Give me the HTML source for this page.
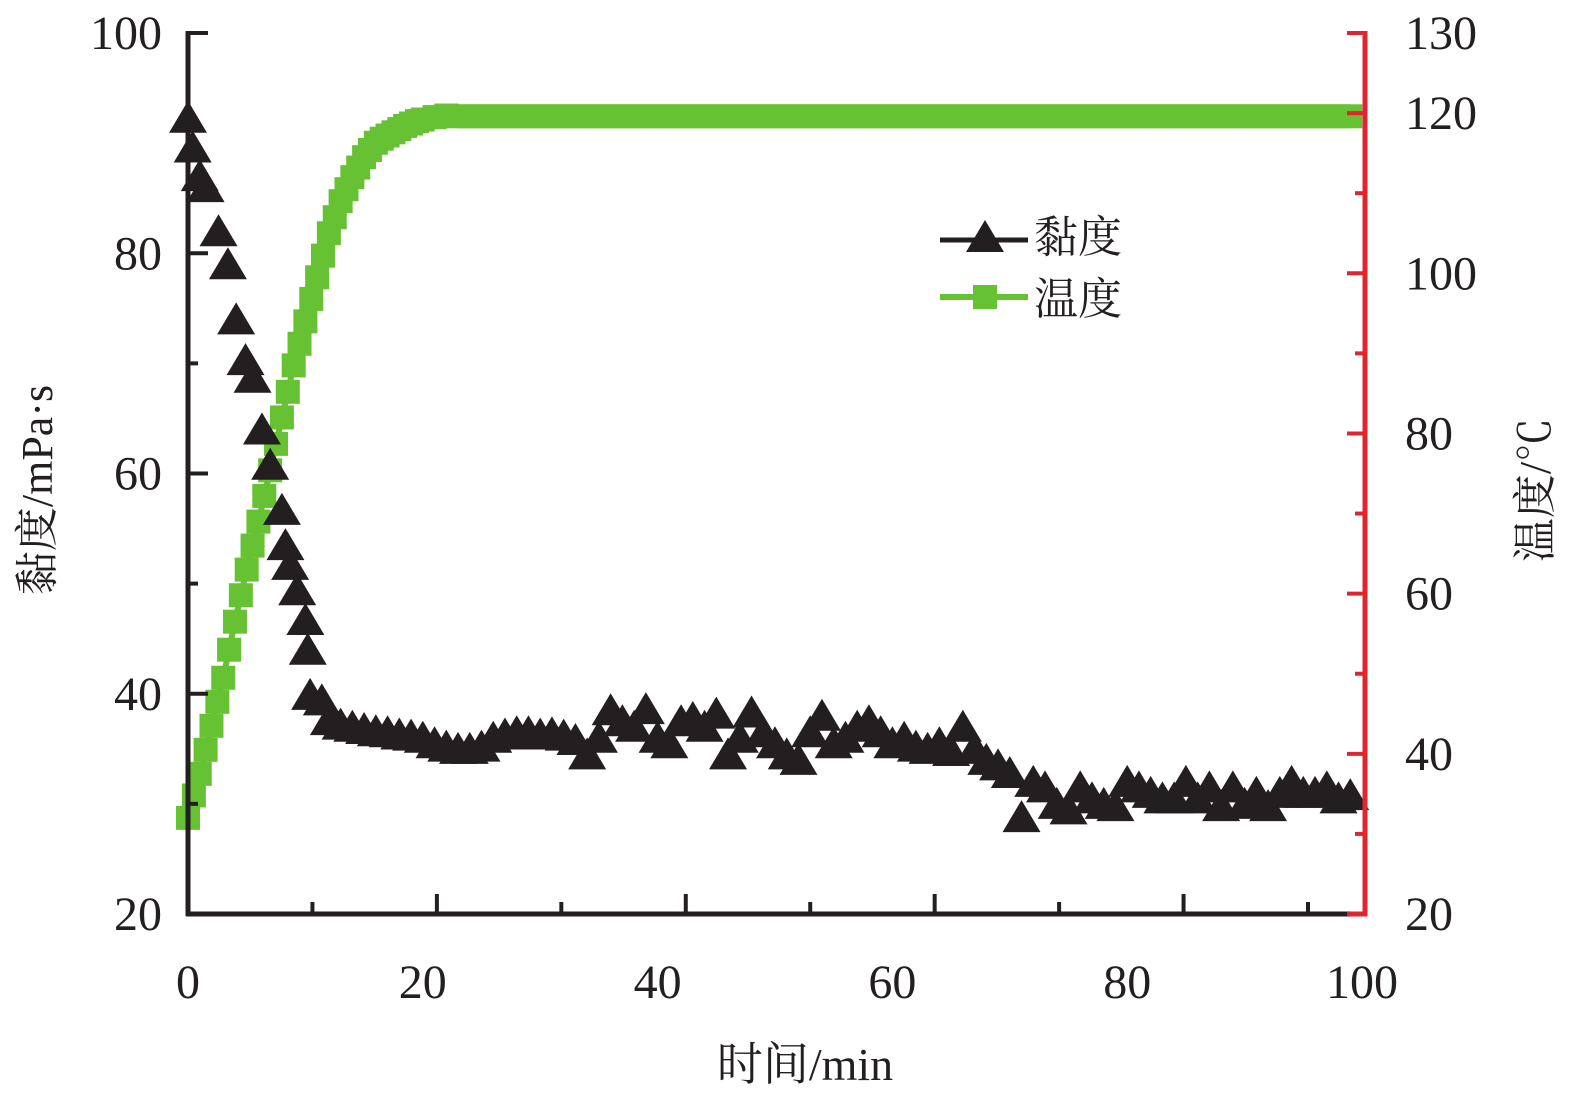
<!DOCTYPE html>
<html><head><meta charset="utf-8"><style>
body{margin:0;background:#fff}
svg{display:block}
text{font-family:"Liberation Serif","Noto Serif CJK SC",serif;fill:#231f20}
</style></head><body>
<svg id="chart" width="1575" height="1106" viewBox="0 0 1575 1106">
<g id="temp"></g>
<g id="visc"></g>
<g id="axes"></g>
<text transform="translate(52,490) rotate(-90)" text-anchor="middle" font-size="44">黏度/mPa·s</text>
<text transform="translate(1550,490) rotate(-90)" text-anchor="middle" font-size="44">温度/℃</text>
<text x="805" y="1080" text-anchor="middle" font-size="46">时间/min</text>
<g>
<g>
<line x1="940" y1="240" x2="1028" y2="240" stroke="#231f20" stroke-width="5"/>
<polygon points="966,252 985,220 1004,252" fill="#231f20"/>
<text x="1034" y="252" font-size="44">黏度</text></g>
<g>
<line x1="940" y1="297" x2="1028" y2="297" stroke="#66c133" stroke-width="6"/>
<rect x="973" y="285" width="24" height="24" fill="#66c133"/>
<text x="1034" y="314" font-size="44">温度</text></g>
</g>
</svg>
<script>
const tempTimes=[0,0.5,1,1.5,2,2.5,3,3.5,4,4.5,5,5.5,6,6.5,7,7.5,8,8.5,9,9.5,10,10.5,11,11.5,12,12.5,13,13.5,14,14.5,15,15.5,16,16.5,17,17.5,18,18.5,19,19.5,20,21,22];
const tempValues=[32,34.8,37.5,40.5,43.5,46.5,49.5,53,56.5,59.8,63,66,69,72.2,75.4,78.7,82,85.2,88.5,91.2,94,96.8,99.5,102.2,105,107,109,110.5,112,113.2,114.5,115.4,116.3,116.8,117.2,117.6,118,118.4,118.7,119,119.2,119.5,119.7];
const viscTimes=[0,0.4,1,1.5,2.6,3.4,4.1,4.9,5.5,6.3,7,8,8.3,8.7,9.3,10,10.2,10.4,11.4,12,13,14,15,16,17,18,19,20,21,22,23,24,25,26,27,28,29,30,31,32,33,34,35,36,37,38,39,40,41,42,43,44,45,46,47,48,49,50,51,52,53,54,55,56,57,58,59,60,61,62,63,64,65,66,67,68,69,70,71,72,73,74,75,76,77,78,79,80,81,82,83,84,85,86,87,88,89,90,91,92,93,94,95,96,97,98,99];
const viscValues=[92.3,89.6,87,86,82,79,74,70.3,68.7,64,60.8,56.7,53.5,51.7,49.4,46.7,44,39.9,39.4,37.6,37.2,37,36.8,36.6,36.5,36.3,36.2,36,35.5,35.2,35,35,35.2,36,36.3,36.5,36.5,36.3,36.4,36.2,35.8,34.5,36,38.5,37.5,37,38.6,36,35.5,37.5,37.8,37,38.2,34.5,36,38.3,36.5,35.5,34.5,34,36.5,38,35.5,36,37,37.5,36.5,35.5,36,35.2,35,35.5,34.8,37,35,34,33.5,32.8,28.8,32,31.5,30,29.5,31.5,30.5,30,29.8,32,31.5,31,30.5,30.5,32,30.5,31.5,29.8,31.5,30,31,29.8,31,32,31,31,31.5,30.5,30.8];
const xTickVals=[0,10.6,21.2,31.8,42.4,53,63.6,74.2,84.8,95.4];
const xLabels=[0,20,40,60,80,100];
const yLeftTicks=[20,30,40,50,60,70,80,90,100];
const yLeftLabels=[20,40,60,80,100];
const yRightTicks=[20,30,40,50,60,70,80,90,100,110,120,130];
const yRightLabels=[20,40,60,80,100,120,130];

const X=t=>188+t*11.74;
const YL=v=>914-(v-20)*11.0125;
const YR=v=>914-(v-20)*8.009;
const NS='http://www.w3.org/2000/svg';
function mk(tag,parent,attrs){const e=document.createElementNS(NS,tag);for(const k in attrs)e.setAttribute(k,attrs[k]);parent.appendChild(e);return e;}
const gT=document.getElementById('temp'),gV=document.getElementById('visc'),gA=document.getElementById('axes');
const tt=tempTimes.slice(),tv=tempValues.slice();
for(let t=23;t<=99;t++){tt.push(t);tv.push(119.6);}
let pts=tt.map((t,i)=>X(t)+','+YR(tv[i])).join(' ');
const pl=mk('polyline',gT,{points:pts,fill:'none',stroke:'#66c133','stroke-width':6});


tt.forEach((t,i)=>{const r=mk('rect',gT,{x:X(t)-12,y:YR(tv[i])-12,width:24,height:24,fill:'#66c133'});

});
viscTimes.forEach((t,i)=>{const cx=X(t),cy=YL(viscValues[i]);
const p=mk('polygon',gV,{points:`${cx-19},${cy+15} ${cx},${cy-17} ${cx+19},${cy+15}`,fill:'#231f20'});

});
// axes
mk('line',gA,{x1:188,y1:31,x2:188,y2:916,stroke:'#231f20','stroke-width':5});
mk('line',gA,{x1:186,y1:914,x2:1352,y2:914,stroke:'#231f20','stroke-width':5});
mk('line',gA,{x1:1365,y1:31,x2:1365,y2:916,stroke:'#e0252f','stroke-width':5});
mk('line',gA,{x1:1350,y1:914,x2:1367,y2:914,stroke:'#e0252f','stroke-width':5});
xTickVals.forEach((t,i)=>{const len=i%2?12:20;const l=mk('line',gA,{x1:X(t),y1:914,x2:X(t),y2:914-len,stroke:'#231f20','stroke-width':4});

});
xLabels.forEach(v=>{const tx=mk('text',gA,{x:X(v)-(v===0?0:0),y:998,'text-anchor':'middle','font-size':48});tx.textContent=v;

});
yLeftTicks.forEach(v=>{const len=v%20?10:20;const l=mk('line',gA,{x1:188,y1:YL(v),x2:188+len,y2:YL(v),stroke:'#231f20','stroke-width':4});

});
yLeftLabels.forEach(v=>{const tx=mk('text',gA,{x:162,y:YL(v)+16,'text-anchor':'end','font-size':48});tx.textContent=v;

});
yRightTicks.forEach(v=>{const len=(v%20===0||v===130)?18:10;const l=mk('line',gA,{x1:1365,y1:YR(v),x2:1365-len,y2:YR(v),stroke:'#e0252f','stroke-width':4});

});
yRightLabels.forEach(v=>{const tx=mk('text',gA,{x:1405,y:YR(v)+16,'font-size':48});tx.textContent=v;

});
</script>
</body></html>
